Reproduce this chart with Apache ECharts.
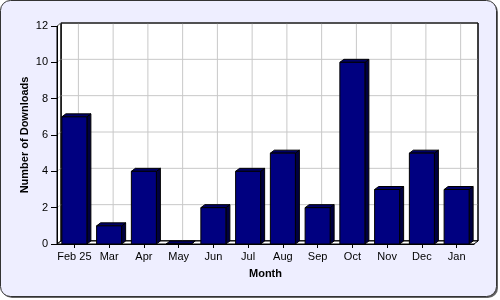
<!DOCTYPE html>
<html><head><meta charset="utf-8">
<script src="https://cdn.jsdelivr.net/npm/echarts@6/dist/echarts.min.js"></script>
<style>html,body{margin:0;padding:0;background:#fff}#c{width:500px;height:300px}</style>
</head><body><div id="c"></div>
<script>
const categories = ['Feb 25','Mar','Apr','May','Jun','Jul','Aug','Sep','Oct','Nov','Dec','Jan'];
const downloads = [7,1,4,0,2,4,5,2,10,3,5,3];
const yTicks = [0,2,4,6,8,10,12];

const DX = 4, DY = 3;
const chart = echarts.init(document.getElementById('c'), null, {renderer:'canvas'});

function renderWalls(params, api){
  const cs = params.coordSys;
  const L = cs.x, T = cs.y, R = cs.x + cs.width, B = cs.y + cs.height;
  const ch = [];
  ch.push({type:'rect', shape:{x:L+DX, y:T-DY, width:R-L, height:B-T}, style:{fill:'#fff', stroke:'#000', lineWidth:1}});
  ch.push({type:'polygon', shape:{points:[[L,T],[L+DX,T-DY],[L+DX,B-DY],[L,B]]}, style:{fill:'#fff', stroke:'#000', lineWidth:1}});
  yTicks.forEach(v=>{
    if (v===0) return;
    const y = api.coord([0,v])[1];
    ch.push({type:'line', shape:{x1:L+DX, y1:y-DY, x2:R+DX, y2:y-DY}, style:{stroke:'#c8c8c8', lineWidth:1}});
    ch.push({type:'line', shape:{x1:L, y1:y, x2:L+DX, y2:y-DY}, style:{stroke:'#c8c8c8', lineWidth:1}});
  });
  categories.forEach((c,i)=>{
    const x = api.coord([i,0])[0];
    ch.push({type:'line', shape:{x1:x+DX, y1:T-DY, x2:x+DX, y2:B-DY}, style:{stroke:'#c8c8c8', lineWidth:1}});
  });
  ch.push({type:'rect', shape:{x:L+DX, y:T-DY, width:R-L, height:B-T}, style:{fill:'none', stroke:'#000', lineWidth:1}});
  ch.push({type:'polygon', shape:{points:[[L,B],[L+DX,B-DY],[R+DX,B-DY],[R,B]]}, style:{fill:'#fff', stroke:'#000', lineWidth:1}});
  return {type:'group', children:ch};
}

function renderBar(params, api){
  const top = api.coord([api.value(0), api.value(1)]);
  const base = api.coord([api.value(0), 0]);
  const bw = api.size([1,0])[0]*0.72;
  const l = top[0]-bw/2, r = top[0]+bw/2, t = top[1], b = base[1];
  return {type:'group', children:[
    {type:'polygon', shape:{points:[[r,b],[r+DX,b-DY],[r+DX,t-DY],[r,t]]}, style:{fill:'#000040', stroke:'#000', lineWidth:1}},
    {type:'polygon', shape:{points:[[l,t],[l+DX,t-DY],[r+DX,t-DY],[r,t]]}, style:{fill:'#000066', stroke:'#000', lineWidth:1}},
    {type:'rect', shape:{x:l, y:t, width:bw, height:b-t}, style:{fill:'#000080', stroke:'#000', lineWidth:1}}
  ]};
}

chart.setOption({
  animation:false,
  backgroundColor:'#fff',
  graphic:[
    {type:'rect', z:-10, shape:{x:2, y:2, width:496, height:296, r:10}, style:{fill:'#666', stroke:'none'}, silent:true},
    {type:'rect', z:-9, shape:{x:0.5, y:0.5, width:496, height:296, r:10}, style:{fill:'#eeeeff', stroke:'#333', lineWidth:1}, silent:true}
  ],
  grid:{left:57, top:26, right:26, bottom:56, containLabel:false},
  xAxis:{
    type:'category', data:categories, z:10,
    axisLine:{show:true, lineStyle:{color:'#000', width:1}},
    axisTick:{show:true, alignWithLabel:true, length:4, lineStyle:{color:'#000'}},
    axisLabel:{color:'#000', fontSize:11, fontFamily:'Liberation Sans, Arial, sans-serif', margin:7, interval:0},
    splitLine:{show:false},
    name:'Month', nameLocation:'middle', nameGap:24, nameMoveOverlap:false,
    nameTextStyle:{color:'#000', fontSize:11, fontWeight:'bold', fontFamily:'Liberation Sans, Arial, sans-serif'}
  },
  yAxis:{
    type:'value', min:0, max:12, interval:2, z:10,
    axisLine:{show:true, lineStyle:{color:'#000', width:1}},
    axisTick:{show:true, length:6, lineStyle:{color:'#000'}},
    axisLabel:{color:'#000', fontSize:11, fontFamily:'Liberation Sans, Arial, sans-serif', margin:9},
    splitLine:{show:false},
    name:'Number of Downloads', nameLocation:'middle', nameGap:27, nameRotate:90, nameMoveOverlap:false,
    nameTextStyle:{color:'#000', fontSize:11, fontWeight:'bold', fontFamily:'Liberation Sans, Arial, sans-serif'}
  },
  series:[
    {type:'custom', renderItem:renderWalls, data:[[0,0]], clip:false, silent:true, z:1, encode:{x:0,y:1}},
    {type:'custom', renderItem:renderBar, data:downloads.map((v,i)=>[i,v]), clip:false, z:3, encode:{x:0,y:1}}
  ]
});
</script></body></html>
